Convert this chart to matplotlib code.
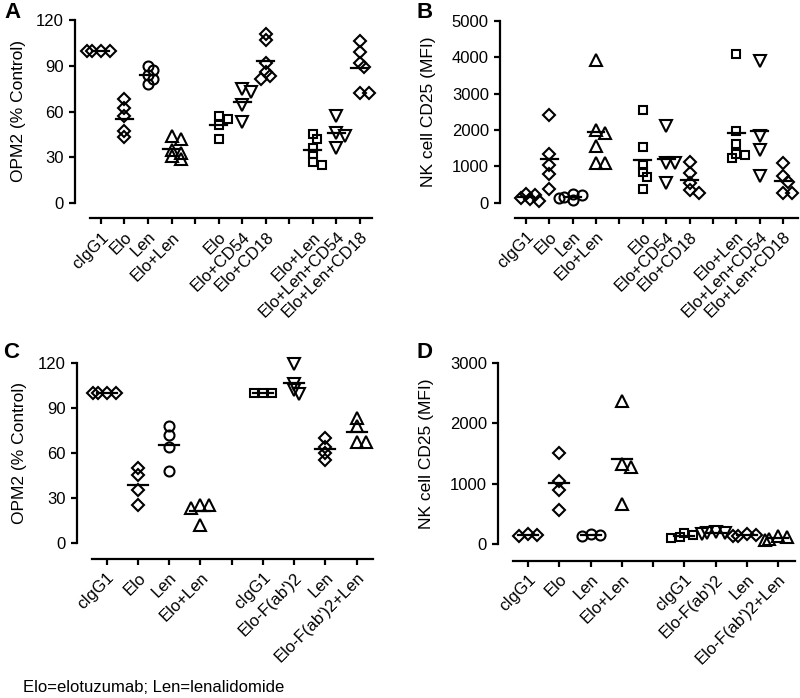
import matplotlib
matplotlib.use("Agg")
import matplotlib.pyplot as plt
import numpy as np

plt.rcParams['font.family'] = ['Liberation Sans', 'DejaVu Sans']
plt.rcParams['font.size'] = 12

# --- данные ---
labels_ab = ["cIgG1", "Elo", "Len", "Elo+Len", "", "Elo", "Elo+CD54", "Elo+CD18",
             "", "Elo+Len", "Elo+Len+CD54", "Elo+Len+CD18"]
markers_ab = ['D', 'D', 'o', '^', None, 's', 'v', 'D', None, 's', 'v', 'D']

opm2_a = [[100, 100, 100, 100], [68, 62, 57, 47, 43], [90, 87, 84, 81, 78],
          [44, 42, 35, 33, 31, 29], [], [57, 55, 51, 42], [75, 73, 64, 53],
          [111, 107, 92, 86, 83, 81], [], [45, 42, 36, 32, 27, 25],
          [57, 46, 44, 36], [106, 99, 92, 89, 72, 72]]

cd25_b = [[250, 200, 130, 90, 50], [2420, 1340, 1040, 800, 370], [250, 200, 150, 120, 80],
          [3930, 2000, 1930, 1560, 1100, 1100], [], [2550, 1540, 1040, 850, 720, 370],
          [2110, 1100, 1080, 530], [1130, 810, 530, 350, 260], [],
          [4100, 1960, 1620, 1340, 1300, 1220], [3900, 1840, 1450, 740],
          [1090, 740, 580, 280, 260]]

labels_cd = ["cIgG1", "Elo", "Len", "Elo+Len", "", "cIgG1", "Elo-F(ab')2", "Len",
             "Elo-F(ab')2+Len"]
markers_cd = ['D', 'D', 'o', '^', None, 's', 'v', 'D', '^']

opm2_c = [[100, 100, 100, 100], [50, 45, 35, 25], [78, 72, 64, 48], [25, 25, 23, 12], [],
          [100, 100, 100], [119, 106, 102, 99], [70, 64, 60, 55], [83, 78, 67, 67]]

cd25_d = [[160, 150, 140], [1500, 1040, 900, 570], [160, 150, 130], [2370, 1330, 1280, 670],
          [], [190, 150, 110, 100], [200, 190, 180, 160], [160, 150, 140, 130],
          [140, 120, 80, 70]]

MSIZE = {'D': 6.2, 's': 6.0, 'o': 7.2, '^': 8.0, 'v': 8.0}

fig = plt.figure(figsize=(8, 6.98), dpi=100)
W, H = 800, 698


def px_axes(left, right, top, bottom):
    return fig.add_axes([left / W, 1 - bottom / H, (right - left) / W, (bottom - top) / H])


def swarm(ax, i, vals, step=4.5, gap=6.0):
    """Простой beeswarm: раздвигаем перекрывающиеся точки по горизонтали (в пикселях)."""
    placed, xs = [], []
    inv = ax.transData.inverted()
    for v in vals:
        x0, y0 = ax.transData.transform((i, v))
        for k in (0, 1, -1, 2, -2, 3, -3):
            xo = x0 + k * step
            if all((xo - px) ** 2 + (y0 - py) ** 2 >= gap ** 2 for px, py in placed):
                break
        placed.append((xo, y0))
        xs.append(inv.transform((xo, y0))[0])
    return xs


def panel(ax, groups, markers, labels, ymax, yticks, ylabel, xlim, xline, off, hw, lab_x):
    ax.set_xlim(*xlim)
    ax.set_ylim(0, ymax)
    for sp in ('top', 'right'):
        ax.spines[sp].set_visible(False)
    ax.spines['left'].set_bounds(0, ymax)
    ax.spines['bottom'].set_position(('outward', off))
    ax.spines['bottom'].set_bounds(*xline)
    for sp in ('left', 'bottom'):
        ax.spines[sp].set_linewidth(1.6)
    ax.set_yticks(yticks)
    ax.set_xticks(range(len(labels)))
    ax.set_xticklabels(labels, rotation=45, ha='right', va='top', rotation_mode='anchor')
    ax.tick_params(width=1.6, length=4.5, labelsize=12)
    ax.set_ylabel(ylabel, fontsize=12.5)
    ax.yaxis.set_label_coords(lab_x, 0.5)
    for i, (vals, m) in enumerate(zip(groups, markers)):
        if not vals:
            continue
        xs = swarm(ax, i, vals)
        ax.plot(xs, vals, linestyle='none', marker=m, ms=MSIZE[m], mfc='none', mec='k',
                mew=1.5, clip_on=False, zorder=3)
        mu = np.mean(vals)
        ax.plot([i - hw, i + hw], [mu, mu], 'k-', lw=1.6, clip_on=False, zorder=4)


axA = px_axes(75, 371.5, 20, 203)
panel(axA, opm2_a, markers_ab, labels_ab, 120, [0, 30, 60, 90, 120], "OPM2 (% Control)",
      (-1.10, 11.49), (-0.47, 11.49), 11, 0.36, -0.165)

axB = px_axes(500, 798, 21, 202.7)
panel(axB, cd25_b, markers_ab, labels_ab, 5000, [0, 1000, 2000, 3000, 4000, 5000],
      "NK cell CD25 (MFI)", (-1.11, 11.64), (-0.47, 11.64), 11, 0.36, -0.215)

axC = px_axes(77, 373, 362.7, 543)
panel(axC, opm2_c, markers_cd, labels_cd, 120, [0, 30, 60, 90, 120], "OPM2 (% Control)",
      (-0.95, 8.52), (-0.48, 8.52), 11.5, 0.32, -0.17)

axD = px_axes(498, 795, 362.7, 544)
panel(axD, cd25_d, markers_cd, labels_cd, 3000, [0, 1000, 2000, 3000],
      "NK cell CD25 (MFI)", (-0.96, 8.54), (-0.48, 8.54), 12, 0.32, -0.215)

for letter, x, y in (("A", 4, 12), ("B", 416, 12), ("C", 3, 353), ("D", 416, 352)):
    fig.text(x / W, 1 - y / H, letter, fontsize=16, fontweight='bold', va='center', ha='left')

fig.text(23 / W, 1 - 687 / H, "Elo=elotuzumab; Len=lenalidomide", fontsize=12, va='center')

fig.savefig("out.png", dpi=100)
